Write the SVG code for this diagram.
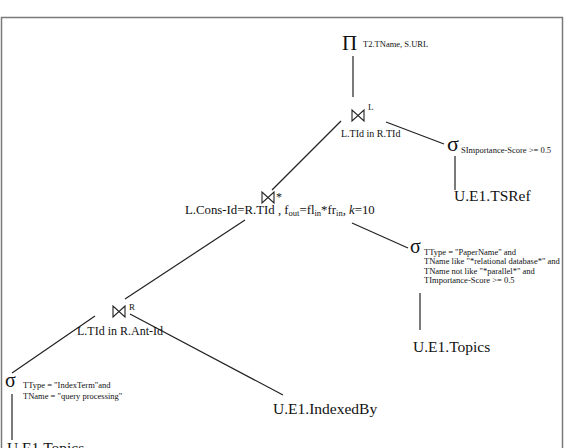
<svg xmlns="http://www.w3.org/2000/svg" width="569" height="448" viewBox="0 0 569 448">
<style>
text{font-family:"Liberation Serif","Times New Roman",serif;fill:#111}
.big{font-size:15.5px}
.sub{font-size:8.5px}
.lbl{font-size:12px}
.sig{font-size:20px}
.bt{fill:none;stroke:#222;stroke-width:1.1;stroke-linejoin:miter}
#edges line{stroke:#222;stroke-width:1.2}
</style>
<defs>
<path id="bowtie" class="bt" d="M0,0 V11 L12,0 V11 Z"/>
</defs>
<rect x="1.5" y="17.5" width="561" height="445" fill="#fff" stroke="#7a7a7a" stroke-width="1.5"/>
<g id="edges">
<line x1="353" y1="56" x2="353" y2="97"/>
<line x1="341" y1="121" x2="272" y2="190"/>
<line x1="386" y1="122" x2="444" y2="144"/>
<line x1="455" y1="156" x2="455" y2="190"/>
<line x1="352" y1="223" x2="408" y2="248"/>
<line x1="420" y1="293" x2="420" y2="330"/>
<line x1="245" y1="220" x2="125" y2="299"/>
<line x1="95" y1="316" x2="12" y2="373"/>
<line x1="130" y1="314" x2="283" y2="395"/>
<line x1="12" y1="394" x2="12" y2="440"/>
</g>
<g id="project">
<text x="342" y="50" font-size="21">Π</text>
<text x="363" y="47" class="sub">T2.TName, S.URL</text>
</g>
<g id="joinL">
<use href="#bowtie" x="352" y="110"/>
<text x="368" y="110" font-size="9">L</text>
<text x="341" y="137" font-size="10">L.TId in R.TId</text>
</g>
<g id="selectS">
<text x="447" y="151" font-size="22">σ</text>
<text x="461" y="153" class="sub">SImportance-Score &gt;= 0.5</text>
</g>
<g id="tsref">
<text x="454" y="201" class="big">U.E1.TSRef</text>
</g>
<g id="joinStar">
<use href="#bowtie" x="262" y="192"/>
<text x="276" y="201" font-size="12">*</text>
<text x="185" y="214" font-size="12.8">L.Cons-Id=R.TId , f<tspan font-size="8.5" dy="2">out</tspan><tspan dy="-2">=fl</tspan><tspan font-size="8.5" dy="2">in</tspan><tspan dy="-2">*fr</tspan><tspan font-size="8.5" dy="2">in</tspan><tspan dy="-2">, </tspan><tspan font-style="italic">k</tspan>=10</text>
</g>
<g id="selectT">
<text x="410" y="253" font-size="20">σ</text>
<text x="424" y="255" class="sub">TType = "PaperName" and</text>
<text x="424" y="264" class="sub">TName like "*relational database*" and</text>
<text x="424" y="274" class="sub">TName not like "*parallel*" and</text>
<text x="424" y="283" class="sub">TImportance-Score &gt;= 0.5</text>
</g>
<g id="topicsR">
<text x="413" y="352" class="big">U.E1.Topics</text>
</g>
<g id="joinR">
<use href="#bowtie" x="113" y="306"/>
<text x="129" y="310" font-size="9">R</text>
<text x="77" y="335" class="lbl">L.TId in R.Ant-Id</text>
</g>
<g id="selectI">
<text x="5" y="387" class="sig">σ</text>
<text x="23" y="388" class="sub">TType = "IndexTerm"and</text>
<text x="23" y="399" class="sub">TName = "query processing"</text>
</g>
<g id="topicsL">
<text x="7" y="453" class="big">U.E1.Topics</text>
</g>
<g id="indexedBy">
<text x="273" y="414" class="big">U.E1.IndexedBy</text>
</g>
</svg>
